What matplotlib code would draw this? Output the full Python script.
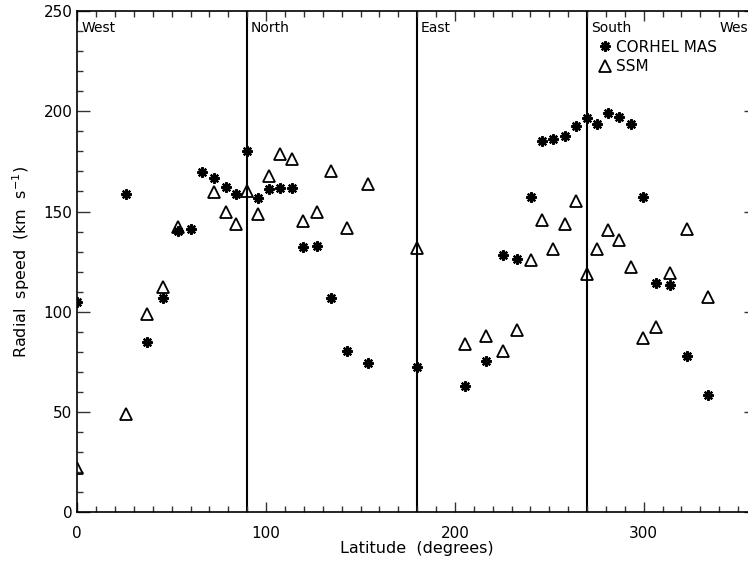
import matplotlib
matplotlib.use("Agg")
import matplotlib.pyplot as plt
from matplotlib.ticker import MultipleLocator

nan = float("nan")

# latitude around the limb (degrees), shared by both models
lat = [0, 25.8, 36.7, 45.5, 53.1, 60.0, 66.1, 72.3, 78.5, 84.3,
       90, 95.8, 101.6, 107.2, 113.6, 119.8, 126.7, 134.2, 143.1, 154.2,
       180, 205.5, 216.6, 225.4, 233.0, 240.1, 246.0, 252.2, 258.2, 264.0,
       270, 275.5, 281.3, 287.1, 293.5, 299.5, 306.6, 314.1, 323.0, 333.9]

corhel = [105.0, 158.7, 85.0, 106.7, 140.4, 141.4, 169.5, 166.5, 162.3, 158.7,
          180.1, 156.5, 161.0, 161.5, 161.5, 132.1, 132.9, 106.7, 80.6, 74.6,
          72.6, 63.1, 75.4, 128.1, 126.1, 157.3, 185.2, 186.2, 187.6, 192.6,
          196.6, 193.6, 199.2, 196.9, 193.6, 157.3, 114.6, 113.6, 78.1, 58.3]

# SSM points at 60 and 66 deg are hidden under the asterisks in the original
ssm = [21.9, 49.0, 98.7, 112.2, 142.4, nan, nan, 159.8, 149.7, 143.6,
       160.3, 148.6, 167.8, 178.6, 176.0, 145.2, 149.7, 170.3, 141.7, 163.7,
       131.6, 83.9, 87.9, 80.3, 90.9, 125.8, 145.7, 131.3, 143.6, 155.3,
       118.8, 131.1, 140.7, 135.7, 122.4, 87.1, 92.2, 119.4, 141.1, 107.2]

quad_lines = [90, 180, 270]
quad_labels = [(2, "West"), (92, "North"), (182, "East"), (272, "South"), (340, "West")]

W, H = 748, 562
fig = plt.figure(figsize=(W / 100, H / 100), dpi=100)
# axis runs to 360 deg, a little past the right edge of the image (as in the original)
x0, x1, y0, y1 = 77.3, 757.0, 512.3, 11.0
ax = fig.add_axes([x0 / W, 1 - y0 / H, (x1 - x0) / W, (y0 - y1) / H])

for xl in quad_lines:
    ax.axvline(xl, color="black", lw=1.5, zorder=1)

ax.plot(lat, ssm, ls="none", marker="^", ms=8, mfc="none", mec="black",
        mew=1.3, label="SSM", zorder=2)
ax.plot(lat, corhel, ls="none", marker=(8, 2, 0), ms=7.5, mec="black",
        mew=1.6, label="CORHEL MAS", zorder=3)

for xt, txt in quad_labels:
    ax.text(xt, 239.6, txt, ha="left", va="baseline", fontsize=10)

ax.set_xlim(0, 360)
ax.set_ylim(0, 250)
ax.xaxis.set_major_locator(MultipleLocator(100))
ax.xaxis.set_minor_locator(MultipleLocator(10))
ax.yaxis.set_major_locator(MultipleLocator(50))
ax.yaxis.set_minor_locator(MultipleLocator(10))
ax.tick_params(which="both", direction="in", top=True, right=True, labelsize=11,
               width=1.0, color="#333333")
ax.tick_params(axis="x", which="major", length=7.5, pad=10)
ax.tick_params(axis="y", which="major", length=9.5, pad=3.5)
ax.tick_params(which="minor", length=4.2)
for s in ax.spines.values():
    s.set_linewidth(1.2)

ax.set_xlabel("Latitude  (degrees)", fontsize=11.5)
ax.xaxis.set_label_coords(0.5, -0.058)
ax.set_ylabel("Radial  speed  (km  s$^{-1}$)", fontsize=11.5)
ax.yaxis.set_label_coords(-0.067, 0.5)

h, l = ax.get_legend_handles_labels()
ax.legend(h[::-1], l[::-1], loc="upper left", bbox_to_anchor=(0.758, 0.958),
          frameon=False, fontsize=11, handlelength=0.7, handletextpad=0.35,
          labelspacing=0.3, borderpad=0, numpoints=1)

fig.savefig("out.png", dpi=100)
